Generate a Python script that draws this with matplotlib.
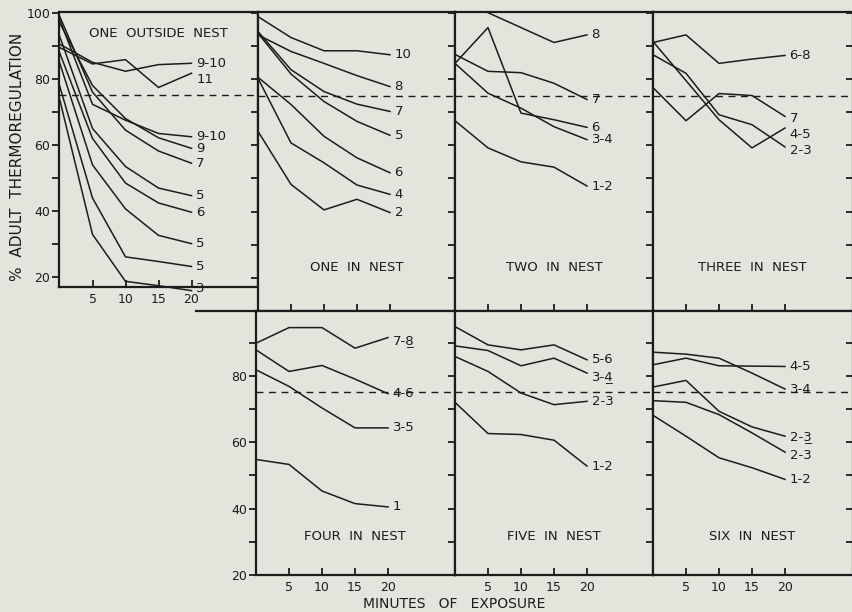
import numpy as np
import matplotlib
matplotlib.use("Agg")
import matplotlib.pyplot as plt
from matplotlib.lines import Line2D

# minutes of exposure
minutes = [0, 5, 10, 15, 20]

# ONE OUTSIDE NEST
one_out_labels = ["9-10", "11", "9-10", "9", "7", "5", "6", "5", "5", "3"]
one_out_values = [
    [90.5, 85.0, 82.3, 84.3, 84.7],
    [89.5, 84.5, 85.8, 77.4, 81.7],
    [98.0, 72.3, 67.5, 63.5, 62.5],
    [97.0, 78.0, 68.0, 62.2, 59.0],
    [99.0, 76.0, 64.5, 58.2, 54.5],
    [93.0, 65.0, 53.5, 47.0, 44.7],
    [88.0, 62.0, 48.5, 42.5, 39.7],
    [85.0, 54.0, 40.7, 32.7, 30.2],
    [78.0, 44.0, 26.2, 24.8, 23.3],
    [74.0, 33.0, 18.8, 17.5, 16.0],
]

# ONE IN NEST
one_in_labels = ["10", "8", "7", "5", "6", "4", "2"]
one_in_values = [
    [98.8, 92.5, 88.5, 88.5, 87.3],
    [93.3, 88.3, 84.7, 81.0, 77.7],
    [94.3, 82.8, 76.2, 72.4, 70.2],
    [93.8, 81.5, 73.2, 67.2, 63.0],
    [80.5, 72.3, 62.7, 56.2, 51.7],
    [80.2, 60.7, 54.7, 48.0, 45.2],
    [64.2, 48.2, 40.5, 43.7, 39.7],
]

# TWO IN NEST
two_in_labels = ["8", "7", "6", "3-4", "1-2"]
two_in_values = [
    [np.nan, 100.0, 95.5, 91.0, 93.3],
    [87.4, 82.3, 81.9, 78.7, 73.8],
    [84.7, 95.5, 69.7, 67.7, 65.4],
    [84.7, 75.7, 71.2, 65.6, 61.7],
    [67.4, 59.2, 55.0, 53.4, 47.7],
]

# THREE IN NEST
three_in_labels = ["6-8", "7", "4-5", "2-3"]
three_in_values = [
    [91.0, 93.3, 84.7, 86.0, 87.1],
    [77.4, 67.4, 75.6, 75.0, 68.7],
    [91.3, 79.5, 67.7, 59.2, 65.2],
    [87.3, 81.7, 69.2, 66.2, 59.5],
]

# FOUR IN NEST
four_in_labels = ["7-8\u0332", "4-6", "3-5", "1"]
four_in_values = [
    [89.8, 94.5, 94.5, 88.3, 91.5],
    [87.8, 81.3, 83.1, 79.0, 74.6],
    [81.8, 76.8, 70.3, 64.3, 64.3],
    [54.8, 53.3, 45.3, 41.5, 40.5],
]

# FIVE IN NEST
five_in_labels = ["5-6", "3-4\u0332", "2-3", "1-2"]
five_in_values = [
    [94.8, 89.3, 87.8, 89.3, 84.8],
    [89.0, 87.6, 83.0, 85.3, 80.8],
    [85.8, 81.3, 74.8, 71.3, 72.3],
    [72.0, 62.6, 62.3, 60.6, 52.8],
]

# SIX IN NEST
six_in_labels = ["4-5", "3-4", "2-3\u0332", "2-3", "1-2"]
six_in_values = [
    [83.3, 85.3, 83.0, 82.9, 82.8],
    [87.1, 86.5, 85.3, 80.8, 76.0],
    [76.6, 78.6, 69.3, 64.6, 61.8],
    [72.5, 72.0, 68.3, 62.8, 57.0],
    [68.1, 61.8, 55.3, 52.3, 48.8],
]

bg = "#e4e3dc"
ink = "#1c1c1c"
W, H = 852, 612

fig = plt.figure(figsize=(W / 100, H / 100), dpi=100, facecolor=bg)


def rect(x0, y0, x1, y1):
    # pixel box -> figure fraction
    return [x0 / W, 1 - y1 / H, (x1 - x0) / W, (y1 - y0) / H]


# title, labels, values, pixel box, ylim, title y, y labels, x labels, last col, label nudges
panels = [
    ("ONE  OUTSIDE  NEST", one_out_labels, one_out_values, (59.5, 12, 258, 287), (17.1, 100.2), 93.7, True, True, False, {1: -1.8, 9: 0.6}),
    ("ONE  IN  NEST", one_in_labels, one_in_values, (258, 12, 455, 311), (10, 100.2), 23.2, False, False, False, {}),
    ("TWO  IN  NEST", two_in_labels, two_in_values, (455, 12, 653, 311), (10, 100.2), 23.2, False, False, False, {}),
    ("THREE  IN  NEST", three_in_labels, three_in_values, (653, 12, 853, 311), (10, 100.2), 23.2, False, False, True, {1: -0.5, 2: -1.9, 3: -1.0}),
    ("FOUR  IN  NEST", four_in_labels, four_in_values, (256, 311, 455, 575), (20, 99.5), 31.7, True, True, False, {0: -1.0}),
    ("FIVE  IN  NEST", five_in_labels, five_in_values, (455, 311, 653, 575), (20, 99.5), 31.7, False, True, False, {1: -1.0}),
    ("SIX  IN  NEST", six_in_labels, six_in_values, (653, 311, 853, 575), (20, 99.5), 31.7, False, True, True, {3: -1.0}),
]

for title, labels, values, box, ylim, ty, ylab, xlab, lastcol, nudge in panels:
    ax = fig.add_axes(rect(*box))
    ax.set_facecolor(bg)
    ax.set_xlim(0, (box[2] - box[0]) / 6.6)
    ax.set_ylim(*ylim)

    for i, (lab, vals) in enumerate(zip(labels, values)):
        ax.plot(minutes, vals, color=ink, lw=1.1, clip_on=(title == "TWO  IN  NEST"))
        ax.text(20.7, vals[-1] + nudge.get(i, 0), lab, ha="left", va="center",
                fontsize=9.5, color=ink)

    ax.axhline(75, color=ink, lw=1.0, dashes=(5, 4))
    ax.text(15, ty, title, ha="center", va="center", fontsize=9.5, color=ink)

    for s in ax.spines.values():
        s.set_linewidth(1.6)
        s.set_color(ink)

    yt = [v for v in range(20, 101, 10) if v <= ylim[1]]
    ax.set_yticks(yt)
    if ylab:
        ax.set_yticklabels([str(v) if v % 20 == 0 else "" for v in yt])
    else:
        ax.set_yticklabels([])
    ax.tick_params(axis="y", direction="out", length=5, width=1.3, color=ink,
                   labelsize=9, labelcolor=ink, pad=1.5)

    ax.set_xticks([5, 10, 15, 20])
    if xlab:
        ax.set_xticklabels(["5", "10", "15", "20"])
    else:
        ax.set_xticklabels([])
    ax.tick_params(axis="x", direction="in", length=5, width=1.3, color=ink,
                   labelsize=9, labelcolor=ink, pad=4)
    if lastcol:
        ax.yaxis.set_ticks_position("both")
        for t in ax.yaxis.get_major_ticks():
            t.tick2line.set_marker(matplotlib.lines.TICKLEFT)

# border line left of the lower row
fig.add_artist(Line2D([196 / W, 256 / W], [1 - 311 / H, 1 - 311 / H], color=ink, lw=1.6))

fig.text(18 / W, 1 - 157 / H, "%  ADULT  THERMOREGULATION", rotation=90,
         ha="center", va="center", fontsize=11, color=ink)
fig.text(454 / W, 1 - 604 / H, "MINUTES   OF   EXPOSURE", ha="center", va="center",
         fontsize=10, color=ink)

fig.savefig("out.png", dpi=100, facecolor=bg)
